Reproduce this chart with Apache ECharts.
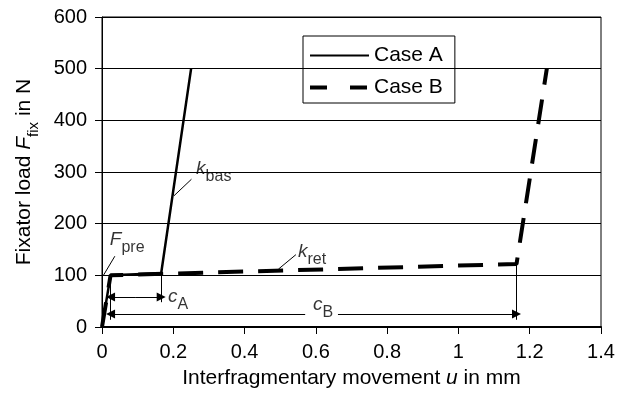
<!DOCTYPE html>
<html>
<head>
<meta charset="utf-8">
<script src="https://cdn.jsdelivr.net/npm/echarts@6/dist/echarts.min.js"></script>
<style>
	html,body{ margin:0; padding:0; background:#fff;}
	#main{ width:628px; height:394px;}
</style>
</head>
<body>
<div id="main"></div>
<script>
// curves (u in mm, F in N)
var caseAU=[0,0.024,0.166,0.25];
var caseAF=[0,100,104,500];
var caseBU=[0,0.024,1.163,1.248];
var caseBF=[0,100,122,500];

// dimension arrows (arrow head at the second point)
var arrowLines=[
	[[0.095,58],[0.024,58]],
	[[0.095,58],[0.166,58]],
	[[0.57,25],[0.024,25]],
	[[0.662,25],[1.163,25]]
];
// extension lines and label leaders
var thinLines=[
	[[0.024,100],[0.024,14]],
	[[0.166,104],[0.166,48]],
	[[1.163,122],[1.163,14]],
	[[0.036,137],[0.004,100]],
	[[0.251,286],[0.202,254]],
	[[0.544,140],[0.495,112]]
];
var labelPos=[[0.022,163],[0.264,300],[0.55,140],[0.185,52],[0.592,37]];
var labelTxt=['{m|F}{s|pre}','{m|k}{s|bas}','{m|k}{s|ret}','{m|c}{s|A}','{m|c}{s|B}'];

var font='Liberation Sans, Arial, sans-serif';
var richSub={
	m:{fontFamily:font,fontSize:19,fontStyle:'italic',color:'#000',lineHeight:22,verticalAlign:'top'},
	s:{fontFamily:font,fontSize:16,color:'#000',lineHeight:25,verticalAlign:'bottom'}
};

var zip=function(a,b){
	var r=[];
	for(var i=0;i<a.length;i++)r.push([a[i],b[i]]);
	return r;
};

var myChart=echarts.init(document.getElementById('main'));
var option={
	animation:false,
	backgroundColor:'#fff',
	textStyle:{fontFamily:font},
	grid:{left:102,right:27,top:17,bottom:65,show:true,borderColor:'#000',borderWidth:1},
	legend:{
		orient:'vertical',left:303,top:36,
		padding:[9,12,5,5],itemGap:11,
		itemWidth:59,itemHeight:20,
		borderColor:'#000',borderWidth:1,
		itemStyle:{color:'rgba(0,0,0,0)',borderWidth:0,opacity:0},
		textStyle:{fontFamily:font,fontSize:21,lineHeight:20,color:'#000'},
		data:[
			{name:'Case A',lineStyle:{width:2}},
			{name:'Case B',lineStyle:{width:4,type:[17,23]}}
		]
	},
	xAxis:{
		type:'value',min:0,max:1.4,interval:0.2,
		name:'Interfragmentary movement {i|u} in mm',
		nameLocation:'middle',nameGap:41,
		nameTextStyle:{fontFamily:font,fontSize:21,color:'#000',
			rich:{i:{fontFamily:font,fontSize:21,fontStyle:'italic',color:'#000'}}},
		axisLine:{show:true,lineStyle:{color:'#000',width:2}},
		axisTick:{show:true,length:7,lineStyle:{color:'#000'}},
		axisLabel:{color:'#000',fontSize:20,fontFamily:font,margin:15},
		splitLine:{show:false}
	},
	yAxis:{
		type:'value',min:0,max:600,interval:100,
		name:'{t|Fixator load }{f|F}{s|fix}{t| in N}',
		nameLocation:'middle',nameGap:61,
		nameTextStyle:{fontFamily:font,fontSize:21,color:'#000',
			rich:{
				t:{fontFamily:font,fontSize:21,color:'#000',verticalAlign:'top',lineHeight:24},
				f:{fontFamily:font,fontSize:21,fontStyle:'italic',color:'#000',verticalAlign:'top',lineHeight:24},
				s:{fontFamily:font,fontSize:15,color:'#000',verticalAlign:'bottom',lineHeight:27}
			}},
		axisLine:{show:true,lineStyle:{color:'#000',width:1}},
		axisTick:{show:true,length:7,lineStyle:{color:'#000'}},
		axisLabel:{color:'#000',fontSize:20,fontFamily:font,margin:15},
		splitLine:{show:true,lineStyle:{color:'#000',width:1}}
	},
	series:[
		{
			name:'Case A',type:'line',symbol:'none',
			data:zip(caseAU,caseAF),
			lineStyle:{color:'#000',width:2.5},
			itemStyle:{color:'#000'},z:4
		},
		{
			name:'Case B',type:'line',symbol:'none',
			data:zip(caseBU,caseBF),
			lineStyle:{color:'#000',width:4,type:[25,15]},
			itemStyle:{color:'#000'},z:3
		},
		{
			type:'lines',coordinateSystem:'cartesian2d',
			symbol:['none','triangle'],symbolSize:9,
			lineStyle:{color:'#000',width:1,opacity:1},
			data:arrowLines.map(function(c){return {coords:c};}),z:5
		},
		{
			type:'lines',coordinateSystem:'cartesian2d',
			symbol:['none','none'],
			lineStyle:{color:'#000',width:1,opacity:1},
			data:thinLines.map(function(c){return {coords:c};}),z:5
		},
		{
			type:'scatter',symbolSize:0,silent:true,
			data:labelPos.map(function(p,i){
				return {value:p,label:{formatter:labelTxt[i]}};
			}),
			label:{show:true,position:'inside',align:'left',verticalAlign:'middle',rich:richSub},z:6
		}
	]
};
myChart.setOption(option);
</script>
</body>
</html>
